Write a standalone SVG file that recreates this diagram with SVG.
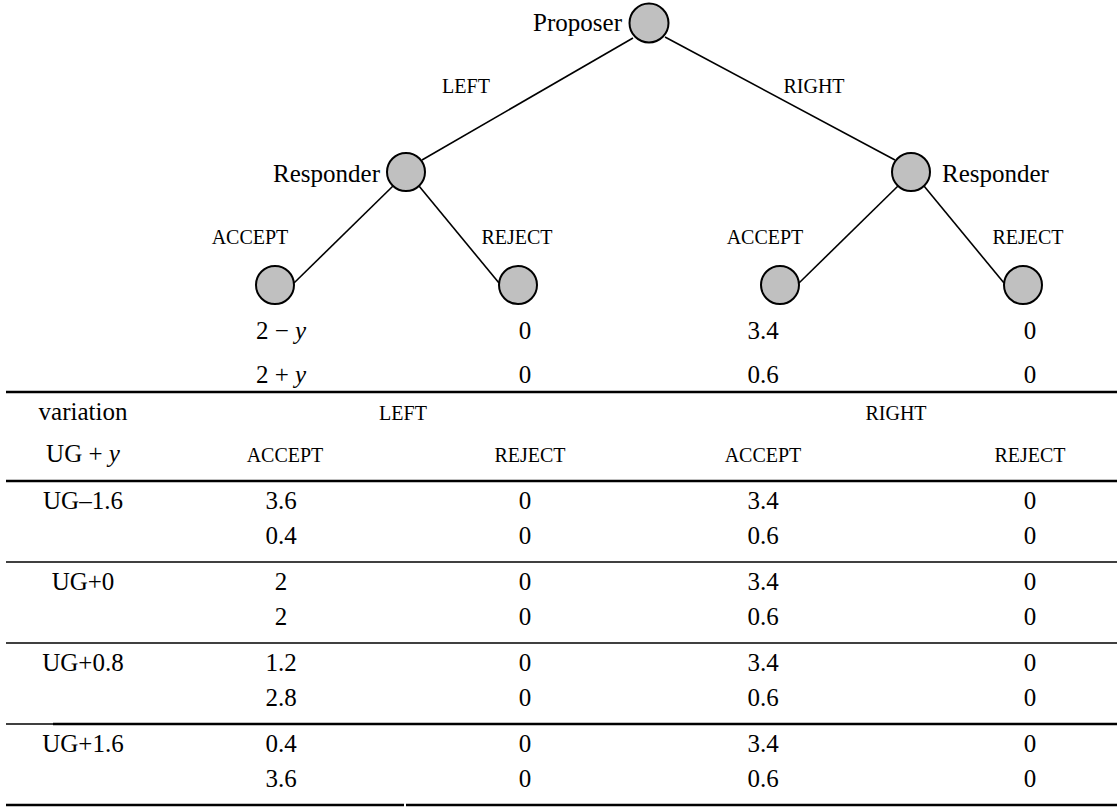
<svg xmlns="http://www.w3.org/2000/svg" width="1117" height="808" viewBox="0 0 1117 808">
<style>
text{font-family:"Liberation Serif","Times New Roman",Times,Tinos,"Noto Serif","DejaVu Serif",serif;fill:#000}
.t{font-size:25px}
.sc{font-size:20px}
.c{text-anchor:middle}
.e{text-anchor:end}
.node{fill:#c0c0c0;stroke:#000;stroke-width:2}
.edge{stroke:#000;stroke-width:1.6;fill:none}
.rule{stroke:#000;stroke-width:2.6}
.thin{stroke:#000;stroke-width:1.5}
</style>
<rect width="1117" height="808" fill="#fff"/>
<g id="connectors">
<line class="edge" x1="633" y1="38" x2="422" y2="160"/>
<line class="edge" x1="665" y1="37" x2="895" y2="160"/>
<line class="edge" x1="393" y1="186" x2="294" y2="283"/>
<line class="edge" x1="419" y1="186" x2="499" y2="283"/>
<line class="edge" x1="898" y1="186" x2="799" y2="283"/>
<line class="edge" x1="924" y1="186" x2="1004" y2="283"/>
</g>
<g id="proposer"><circle class="node" cx="649" cy="23" r="19.5"/><text class="t e" x="622" y="31">Proposer</text></g>
<g id="responder-left"><circle class="node" cx="406" cy="172" r="19"/><text class="t e" x="380" y="182">Responder</text></g>
<g id="responder-right"><circle class="node" cx="911" cy="172" r="19"/><text class="t" x="942" y="182">Responder</text></g>
<g id="leaf-ll"><circle class="node" cx="275" cy="285" r="19"/></g>
<g id="leaf-lr"><circle class="node" cx="518" cy="285" r="19"/></g>
<g id="leaf-rl"><circle class="node" cx="780" cy="285" r="19"/></g>
<g id="leaf-rr"><circle class="node" cx="1023" cy="285" r="19"/></g>
<g id="edge-labels">
<text class="sc c" x="466" y="93">LEFT</text>
<text class="sc c" x="814" y="93">RIGHT</text>
<text class="sc c" x="250" y="244">ACCEPT</text>
<text class="sc c" x="517" y="244">REJECT</text>
<text class="sc c" x="765" y="244">ACCEPT</text>
<text class="sc c" x="1028" y="244">REJECT</text>
</g>
<g id="payoffs">
<text class="t c" x="281" y="339">2 − <tspan font-style="italic">y</tspan></text>
<text class="t c" x="525" y="339">0</text>
<text class="t c" x="763" y="339">3.4</text>
<text class="t c" x="1030" y="339">0</text>
<text class="t c" x="281" y="383">2 + <tspan font-style="italic">y</tspan></text>
<text class="t c" x="525" y="383">0</text>
<text class="t c" x="763" y="383">0.6</text>
<text class="t c" x="1030" y="383">0</text>
</g>
<g id="table">
<line class="rule" x1="6" y1="392" x2="1117" y2="392"/>
<line class="rule" x1="6" y1="481" x2="1117" y2="481"/>
<line class="thin" x1="6" y1="562" x2="1117" y2="562"/>
<line class="thin" x1="6" y1="643" x2="1117" y2="643"/>
<line class="thin" x1="6" y1="724" x2="53" y2="724"/>
<line class="rule" x1="53" y1="724" x2="1117" y2="724" stroke-width="2"/>
<line class="rule" x1="6" y1="805" x2="404" y2="805"/>
<line class="rule" x1="406" y1="805" x2="1117" y2="805"/>
<text class="t c" x="83" y="420">variation</text>
<text class="sc c" x="403" y="420">LEFT</text>
<text class="sc c" x="896" y="420">RIGHT</text>
<text class="t c" x="83" y="462">UG + <tspan font-style="italic">y</tspan></text>
<text class="sc c" x="285" y="462">ACCEPT</text>
<text class="sc c" x="530" y="462">REJECT</text>
<text class="sc c" x="763" y="462">ACCEPT</text>
<text class="sc c" x="1030" y="462">REJECT</text>
<text class="t c" x="83" y="509">UG–1.6</text>
<text class="t c" x="281" y="509">3.6</text><text class="t c" x="525" y="509">0</text><text class="t c" x="763" y="509">3.4</text><text class="t c" x="1030" y="509">0</text>
<text class="t c" x="281" y="544">0.4</text><text class="t c" x="525" y="544">0</text><text class="t c" x="763" y="544">0.6</text><text class="t c" x="1030" y="544">0</text>
<text class="t c" x="83" y="590">UG+0</text>
<text class="t c" x="281" y="590">2</text><text class="t c" x="525" y="590">0</text><text class="t c" x="763" y="590">3.4</text><text class="t c" x="1030" y="590">0</text>
<text class="t c" x="281" y="625">2</text><text class="t c" x="525" y="625">0</text><text class="t c" x="763" y="625">0.6</text><text class="t c" x="1030" y="625">0</text>
<text class="t c" x="83" y="671">UG+0.8</text>
<text class="t c" x="281" y="671">1.2</text><text class="t c" x="525" y="671">0</text><text class="t c" x="763" y="671">3.4</text><text class="t c" x="1030" y="671">0</text>
<text class="t c" x="281" y="706">2.8</text><text class="t c" x="525" y="706">0</text><text class="t c" x="763" y="706">0.6</text><text class="t c" x="1030" y="706">0</text>
<text class="t c" x="83" y="752">UG+1.6</text>
<text class="t c" x="281" y="752">0.4</text><text class="t c" x="525" y="752">0</text><text class="t c" x="763" y="752">3.4</text><text class="t c" x="1030" y="752">0</text>
<text class="t c" x="281" y="787">3.6</text><text class="t c" x="525" y="787">0</text><text class="t c" x="763" y="787">0.6</text><text class="t c" x="1030" y="787">0</text>
</g>
</svg>
